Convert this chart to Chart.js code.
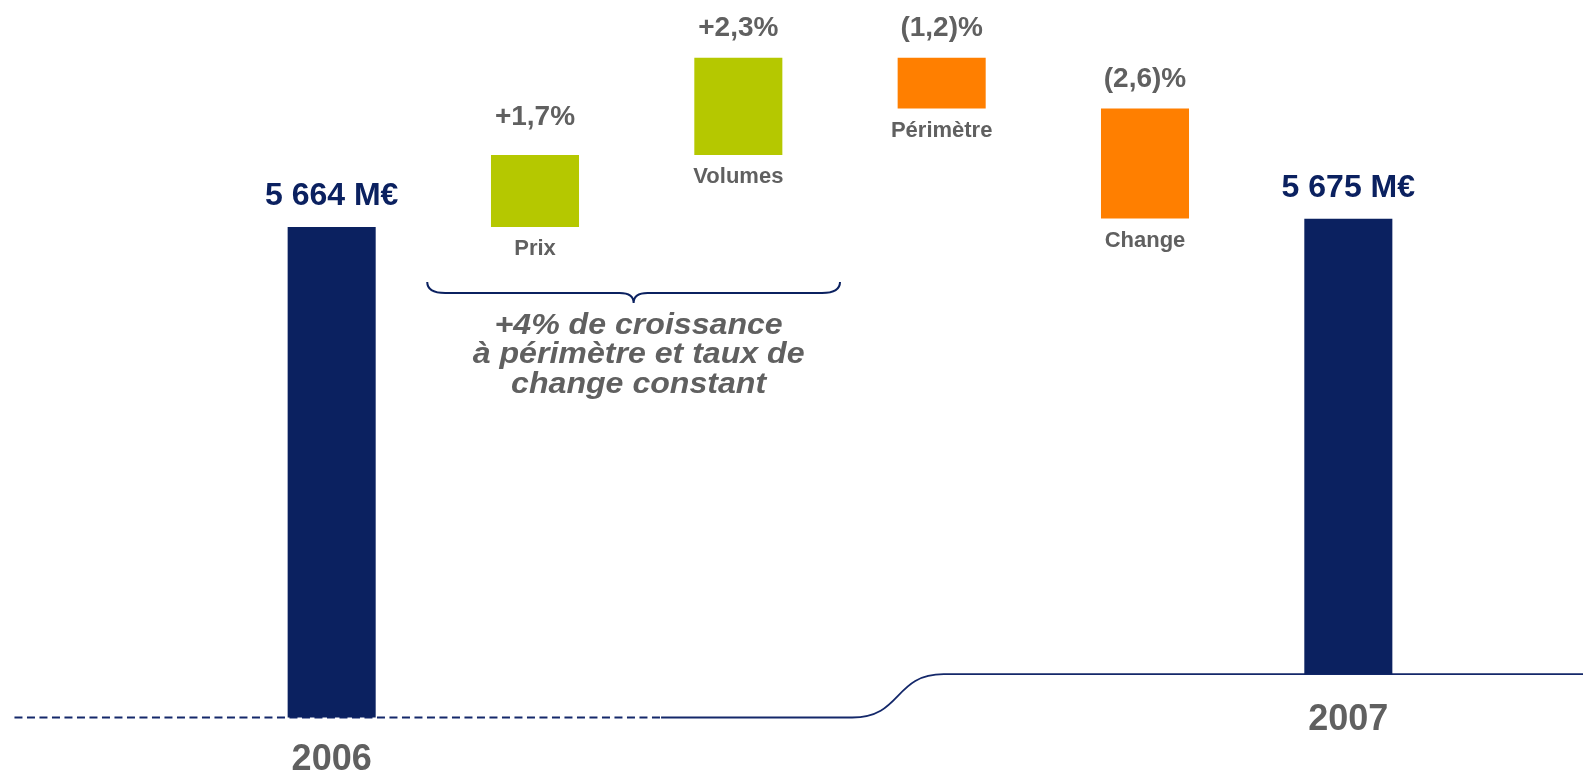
<!DOCTYPE html>
<html><head><meta charset="utf-8">
<script src="https://cdn.jsdelivr.net/npm/chart.js@4/dist/chart.umd.min.js"></script>
<style>html,body{margin:0;padding:0;background:#fff}#wrap{width:1583px;height:775px}</style>
</head><body><div id="wrap"><canvas id="c" width="1583" height="775"></canvas></div>
<script>
// ---- data ----
const categories = ['2006', 'Prix', 'Volumes', 'Périmètre', 'Change', '2007'];
const startTotal = 5664;            // M€, 2006
const endTotal = 5675;              // M€, 2007
const changePct = [1.7, 2.3, -1.2, -2.6];   // % of 2006 revenue
const valueLabels = ['5 664 M€', '+1,7%', '+2,3%', '(1,2)%', '(2,6)%', '5 675 M€'];
const yearLabels = ['2006', '2007'];
const axisBreakFloor = [5007, 5065]; // broken-axis cut of the two total bars (M€)
const noteLines = ['+4% de croissance', 'à périmètre et taux de', 'change constant'];

// ---- build waterfall ----
const barData = [[axisBreakFloor[0], startTotal]];
let level = startTotal;
changePct.forEach(p => { const d = startTotal * p / 100; barData.push([level, level + d]); level += d; });
barData.push([axisBreakFloor[1], endTotal]);

const NAVY = '#0B2160', GREEN = '#B5C800', ORANGE = '#FF7F00', GRAY = '#606060';
const colors = barData.map((d, i) => (i === 0 || i === barData.length - 1) ? NAVY : (d[1] >= d[0] ? GREEN : ORANGE));
const FONT = "'Liberation Sans', Arial, Helvetica, sans-serif";

const decor = {
  id: 'decor',
  beforeDatasetsDraw(chart) {
    const ctx = chart.ctx, xs = chart.scales.x, ys = chart.scales.y;
    const y0 = ys.getPixelForValue(axisBreakFloor[0]);
    const y1 = ys.getPixelForValue(axisBreakFloor[1]);
    const xa = xs.getPixelForValue(-1.56), xb = xs.getPixelForValue(1.62);
    const xc = xs.getPixelForValue(2.56), xd = xs.getPixelForValue(3.01);
    ctx.save();
    ctx.strokeStyle = '#14286A';
    ctx.lineWidth = 1.8;
    ctx.setLineDash([8, 4.5]);
    ctx.beginPath(); ctx.moveTo(xa, y0); ctx.lineTo(xb, y0); ctx.stroke();
    ctx.setLineDash([]);
    ctx.beginPath();
    ctx.moveTo(xb, y0); ctx.lineTo(xc, y0);
    const w = xd - xc;
    ctx.bezierCurveTo(xc + w * 0.55, y0, xd - w * 0.55, y1, xd, y1);
    ctx.lineTo(chart.width, y1);
    ctx.stroke();
    ctx.restore();
  },
  afterDatasetsDraw(chart) {
    const ctx = chart.ctx, meta = chart.getDatasetMeta(0), xs = chart.scales.x;
    const lift = { 1: 8 };
    const yearGap = [52, 56];
    ctx.save();
    ctx.textAlign = 'center';
    ctx.textBaseline = 'alphabetic';
    const n = meta.data.length;
    meta.data.forEach((el, i) => {
      const top = Math.min(el.y, el.base), bottom = Math.max(el.y, el.base);
      const isTotal = (i === 0 || i === n - 1);
      if (isTotal) {
        const k = i === 0 ? 0 : 1;
        ctx.fillStyle = NAVY;
        ctx.font = 'bold 32px ' + FONT;
        ctx.fillText(valueLabels[i], el.x, top - 22);
        ctx.fillStyle = GRAY;
        ctx.font = 'bold 36px ' + FONT;
        ctx.fillText(yearLabels[k], el.x, bottom + yearGap[k]);
      } else {
        ctx.fillStyle = GRAY;
        ctx.font = 'bold 28px ' + FONT;
        ctx.fillText(valueLabels[i], el.x, top - 22 - (lift[i] || 0));
        ctx.font = 'bold 22px ' + FONT;
        ctx.fillText(categories[i], el.x, bottom + 28);
      }
    });
    // brace under Prix + Volumes
    const prix = meta.data[1];
    const bx0 = xs.getPixelForValue(0.47), bx1 = xs.getPixelForValue(2.50);
    const tip = (bx0 + bx1) / 2;
    const yTop = Math.max(prix.y, prix.base) + 55, yMid = yTop + 11, yTip = yTop + 21;
    ctx.strokeStyle = NAVY; ctx.lineWidth = 2;
    ctx.beginPath();
    ctx.moveTo(bx0, yTop);
    ctx.quadraticCurveTo(bx0, yMid, bx0 + 18, yMid);
    ctx.lineTo(tip - 14, yMid);
    ctx.quadraticCurveTo(tip, yMid, tip, yTip);
    ctx.quadraticCurveTo(tip, yMid, tip + 14, yMid);
    ctx.lineTo(bx1 - 18, yMid);
    ctx.quadraticCurveTo(bx1, yMid, bx1, yTop);
    ctx.stroke();
    ctx.fillStyle = GRAY;
    ctx.font = 'italic bold 30px ' + FONT;
    const off = [31, 60, 90];
    noteLines.forEach((t, k) => {
      ctx.save();
      ctx.translate(tip + 5, yTip + off[k]);
      ctx.scale(1.07, 1);
      ctx.fillText(t, 0, 0);
      ctx.restore();
    });
    ctx.restore();
  }
};

new Chart(document.getElementById('c'), {
  type: 'bar',
  data: {
    labels: categories,
    datasets: [{
      data: barData,
      backgroundColor: colors,
      borderWidth: 0,
      barPercentage: 0.433,
      categoryPercentage: 1
    }]
  },
  options: {
    responsive: false,
    animation: false,
    layout: { padding: { left: 230, right: 133, top: 0, bottom: 0 } },
    plugins: { legend: { display: false }, tooltip: { enabled: false } },
    scales: {
      x: { display: false, offset: true },
      y: { display: false, min: 4930, max: 5968 }
    }
  },
  plugins: [decor]
});
</script>
</body></html>
